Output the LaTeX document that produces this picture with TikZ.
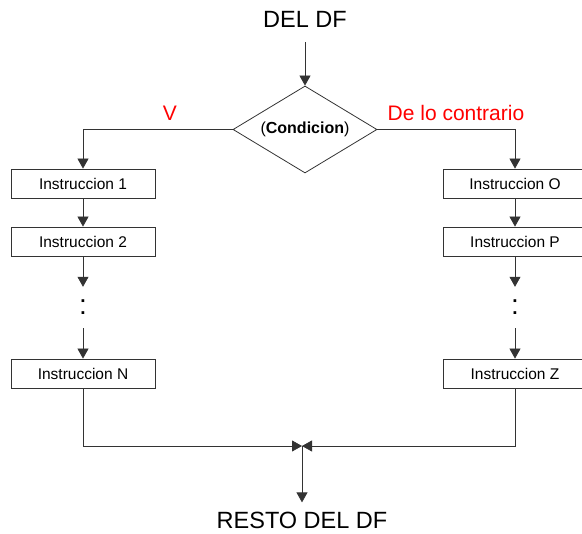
\documentclass[tikz,border=0pt]{standalone}
\usepackage{fontspec}
\setmainfont{Liberation Sans}
\usetikzlibrary{shapes.geometric,arrows.meta,positioning}

\tikzset{
    line/.style={draw=black!80, line width=0.8pt},
    arr/.style={line, -{Triangle[width=11pt,length=10pt]}},
    instr/.style={draw=black!80, line width=0.8pt, rectangle, minimum width=144pt,
        minimum height=29pt, inner sep=0pt, fill=white, font=\fontsize{15.5}{18}\selectfont},
    cond/.style={draw=black!80, line width=0.8pt, diamond, aspect=1.66, minimum width=144pt,
        minimum height=87pt, inner sep=0pt, font=\fontsize{16}{19}\selectfont},
    big/.style={inner sep=0pt, font=\fontsize{23.5}{28}\selectfont},
    lab/.style={inner sep=0pt, text=red, font=\fontsize{21}{25}\selectfont},
    vdots/.style={inner sep=0pt, minimum height=41pt, font=\fontsize{28}{30}\selectfont}
}

\begin{document}
\begin{tikzpicture}[x=1pt, y=-1pt]
    \clip (0,0) rectangle (582,534);

    % Entry and decision
    \node[big, anchor=base] (top) at (305,28) {DEL DF};
    \node[cond] (dec) at (305,129.5) {(\textbf{Condicion})};
    \draw[arr, shorten <=14pt] (top.south) -- (dec.north);

    % Branch labels
    \node[lab] (lv) at (170,113) {V};
    \node[lab] (lf) at (456,113) {De lo contrario};

    % Left column
    \node[instr] (i1) at (83,183.5) {Instruccion 1};
    \node[instr] (i2) at (83,241.5) {Instruccion 2};
    \node[vdots] (dl) at (83,307.5) {:};
    \node[instr] (iN) at (83,373.5) {Instruccion N};

    % Right column
    \node[instr] (iO) at (515,183.5) {Instruccion O};
    \node[instr] (iP) at (515,241.5) {Instruccion P};
    \node[vdots] (dr) at (515,307.5) {:};
    \node[instr] (iZ) at (515,373.5) {Instruccion Z};

    \draw[arr] (dec.west) -| (i1.north);
    \draw[arr] (dec.east) -| (iO.north);
    \foreach \a/\b in {i1/i2, i2/dl, dl/iN, iO/iP, iP/dr, dr/iZ} {
        \draw[arr] (\a) -- (\b);
    }

    % Merge and exit
    \coordinate (join) at (302,446);
    \node[big, anchor=base] (rest) at (302,529) {RESTO DEL DF};
    \draw[arr] (iN.south) |- (join);
    \draw[arr] (iZ.south) |- (join);
    \draw[arr, shorten >=10pt] (join) -- (rest.north);
\end{tikzpicture}
\end{document}
